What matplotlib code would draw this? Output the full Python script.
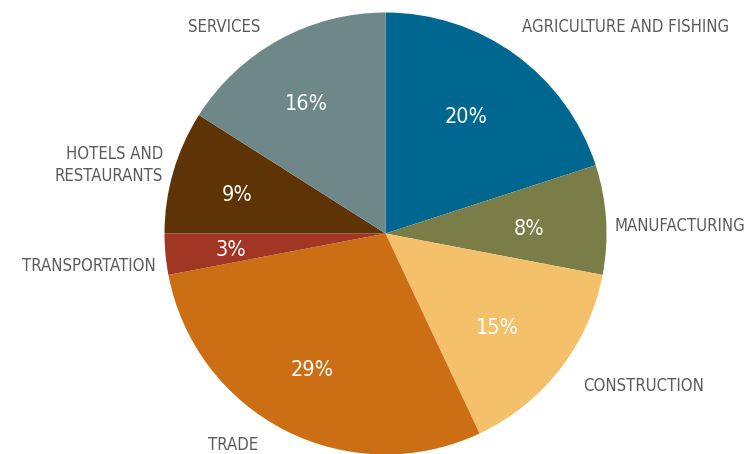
import matplotlib
matplotlib.use("Agg")
import matplotlib.pyplot as plt

# === DATA ===
sectors = ["AGRICULTURE AND FISHING", "MANUFACTURING", "CONSTRUCTION", "TRADE",
           "TRANSPORTATION", "HOTELS AND\nRESTAURANTS", "SERVICES"]
shares = [20, 8, 15, 29, 3, 9, 16]
colors = ["#006890", "#7a7d47", "#f4c06a", "#cc6f14", "#a23624", "#5e3305", "#6e888a"]

# label anchor positions in pixel space (top-left origin) and alignment
label_pos = [(522, 27, "left"), (614, 226, "left"), (583, 386, "left"), (208, 445, "left"),
             (156, 266, "right"), (163, 165, "right"), (188, 27, "left")]
pct_pos = [(466, 117), (529, 229), (497, 328), (312, 370), (231, 250), (237, 195), (306, 104)]

W, H = 749, 454
plt.rcParams['font.family'] = ['DejaVu Sans']
plt.rcParams['font.stretch'] = 'condensed'

fig = plt.figure(figsize=(W / 100, H / 100), dpi=100)
ax = fig.add_axes([0, 0, 1, 1])

ax.pie(shares, colors=colors, startangle=90, counterclock=False,
       center=(385.5, H - 233.5), radius=221, frame=True,
       wedgeprops=dict(linewidth=0))
ax.set_xlim(0, W)
ax.set_ylim(0, H)
ax.set_aspect("equal")
ax.axis("off")

for name, (x, y, ha) in zip(sectors, label_pos):
    ax.text(x, H - y, name, ha=ha, va="center", fontsize=12, color="#5a5a5a",
            linespacing=1.3, stretch="condensed")

for v, (x, y) in zip(shares, pct_pos):
    ax.text(x, H - y, f"{v}%", ha="center", va="center", fontsize=15.5, color="white",
            stretch="condensed")

fig.savefig("out.png", dpi=100)
